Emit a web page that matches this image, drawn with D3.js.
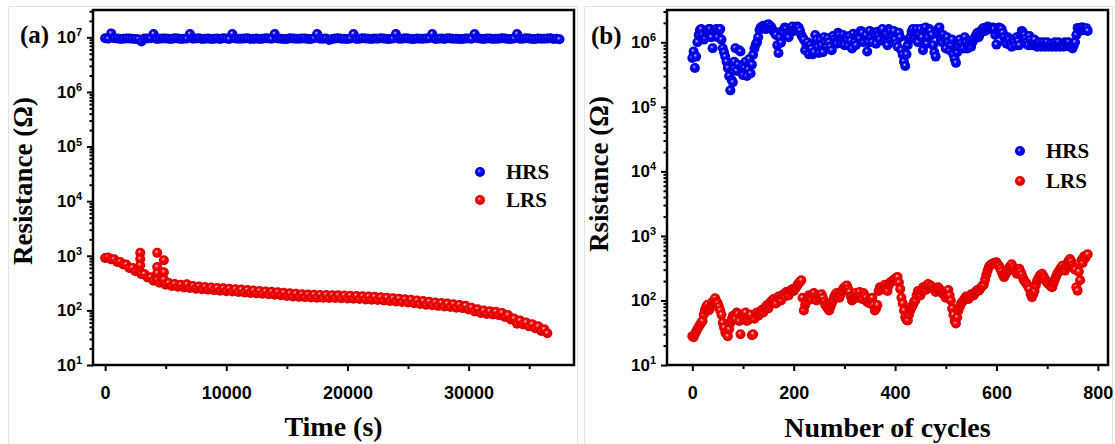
<!DOCTYPE html>
<html>
<head>
<meta charset="utf-8">
<script src="https://cdn.jsdelivr.net/npm/d3@7"></script>
<style>
    body { margin: 0; background: #fff; }
    svg { display: block; font-family: "Liberation Serif", "Times New Roman", serif; font-weight: bold; }
</style>
</head>
<body>
<svg id="chart" width="1115" height="444"></svg>
<script>
// ---------- data: panel (a), retention vs time ----------
const timeHrsA = d3.range(0, 37501, 500);   // s
const hrsA = [
    9.6e6, 1.18e7, 9.5e6, 9.4e6, 9.5e6, 9.3e6, 8.4e6, 9.5e6, 1.15e7, 9.4e6,
    9.5e6, 9.3e6, 9.5e6, 9.4e6, 1.15e7, 9.5e6, 9.3e6, 9.5e6, 9.4e6, 9.3e6,
    9.5e6, 1.15e7, 9.4e6, 9.5e6, 9.3e6, 9.5e6, 9.4e6, 9.5e6, 1.15e7, 9.4e6,
    9.3e6, 9.5e6, 9.4e6, 9.5e6, 9.3e6, 1.15e7, 9.4e6, 8.9e6, 9.5e6, 9.4e6,
    9.3e6, 1.15e7, 9.4e6, 9.5e6, 9.3e6, 9.4e6, 9.5e6, 9.3e6, 1.15e7, 9.4e6,
    9.5e6, 9.3e6, 9.4e6, 9.5e6, 1.15e7, 9.4e6, 9.3e6, 9.5e6, 9.4e6, 9.3e6,
    9.5e6, 1.15e7, 9.4e6, 9.5e6, 9.3e6, 9.4e6, 9.5e6, 9.3e6, 1.15e7, 9.4e6,
    9.5e6, 9.3e6, 9.4e6, 9.5e6, 9.3e6, 9.2e6
];
// readings between the ones above
const timeHrsA2 = d3.range(250, 37251, 500);
const hrsA2 = [
    9.4e6, 9.6e6, 9.3e6, 9.5e6, 9.4e6, 9.2e6, 9.5e6, 9.6e6, 9.3e6, 9.5e6,
    9.4e6, 9.6e6, 9.3e6, 9.5e6, 9.4e6, 9.6e6, 9.4e6, 9.3e6, 9.5e6, 9.6e6,
    9.3e6, 9.5e6, 9.4e6, 9.6e6, 9.4e6, 9.3e6, 9.6e6, 9.4e6, 9.5e6, 9.3e6,
    9.6e6, 9.4e6, 9.5e6, 9.3e6, 9.6e6, 9.4e6, 9.5e6, 9.3e6, 9.6e6, 9.4e6,
    9.5e6, 9.3e6, 9.6e6, 9.4e6, 9.5e6, 9.6e6, 9.3e6, 9.5e6, 9.4e6, 9.6e6,
    9.3e6, 9.5e6, 9.4e6, 9.6e6, 9.3e6, 9.5e6, 9.6e6, 9.4e6, 9.3e6, 9.5e6,
    9.4e6, 9.6e6, 9.3e6, 9.5e6, 9.4e6, 9.6e6, 9.3e6, 9.5e6, 9.4e6, 9.6e6,
    9.3e6, 9.5e6, 9.4e6, 9.6e6, 9.4e6
];
const timeLrsA = d3.range(0, 36501, 500);
const lrsA = [
    910, 860, 770, 690, 600, 520, 460, 400, 350, 320,
    295, 280, 270, 262, 256, 250, 245, 240, 235, 230,
    225, 221, 217, 213, 209, 205, 201, 198, 194, 190,
    184, 180, 177, 175, 173, 171, 170, 169, 168, 167,
    165, 163, 161, 159, 157, 155, 152, 149, 146, 142,
    139, 135, 131, 127, 124, 121, 118, 115, 112, 110,
    104, 96, 90, 86, 84, 82, 76, 68, 57, 55,
    51, 47, 42, 38
];
// upper edge of the LRS band
const timeLrsA2 = d3.range(250, 36251, 500);
const lrsA2 = [
    930, 860, 770, 690, 600, 525, 462, 405, 362, 332,
    318, 304, 294, 286, 280, 274, 269, 263, 258, 253,
    248, 244, 240, 235, 231, 227, 222, 219, 215, 210,
    205, 201, 198, 195, 193, 192, 191, 190, 189, 188,
    186, 184, 181, 179, 177, 174, 171, 167, 164, 160,
    157, 152, 148, 144, 139, 136, 133, 130, 126, 122,
    112, 105, 99, 96, 94, 90, 82, 71, 65, 60,
    56, 51, 45
];
// scattered LRS readings above the main curve
const spikeTimeA = [2900, 2900, 2900, 2900, 4300, 4300, 4300, 4300, 4850, 4850, 4850, 6750];
const spikeLrsA = [1130, 870, 670, 500, 1130, 620, 480, 355, 830, 500, 370, 300];

// ---------- data: panel (b), endurance vs cycles ----------
const cyclesB = d3.range(0, 781, 5);
const hrsB = [
    5.7e5, 4.0e5, 1.0e6, 1.55e6, 1.3e6, 1.15e6, 1.5e6, 1.6e6, 8.1e5, 1.55e6,
    1.2e6, 1.6e6, 8.1e5, 6.0e5, 4.0e5, 1.8e5, 2.4e5, 8.1e5, 4.5e5, 7.2e5,
    3.1e5, 5.0e5, 3.8e5, 3.3e5, 6.4e5, 9.2e5, 1.2e6, 1.7e6, 1.8e6, 1.6e6,
    1.9e6, 1.75e6, 1.5e6, 1.3e6, 6.8e5, 9.8e5, 1.4e6, 1.6e6, 1.2e6, 1.67e6,
    1.5e6, 1.7e6, 1.67e6, 1.3e6, 1.1e6, 9.2e5, 6.5e5, 8.0e5, 7.0e5, 1.1e6,
    6.8e5, 9.0e5, 1.2e6, 8.5e5, 1.0e6, 7.5e5, 1.1e6, 9.5e5, 1.3e6, 1.17e6,
    9.0e5, 1.1e6, 1.25e6, 8.0e5, 1.0e6, 1.3e6, 1.15e6, 1.4e6, 1.2e6, 7.2e5,
    1.5e6, 1.0e6, 1.3e6, 1.45e6, 1.1e6, 1.6e6, 1.2e6, 9.0e5, 1.5e6, 1.3e6,
    1.1e6, 8.5e5, 1.2e6, 6.4e5, 4.3e5, 9.0e5, 1.2e6, 1.6e6, 1.4e6, 1.0e6,
    1.6e6, 7.5e5, 1.7e6, 1.2e6, 1.5e6, 9.0e5, 6.0e5, 1.6e6, 1.1e6, 1.3e6,
    8.0e5, 1.0e6, 9.0e5, 6.5e5, 4.8e5, 8.5e5, 9.5e5, 8.0e5, 1.0e6, 9.0e5,
    8.5e5, 1.1e6, 1.3e6, 1.2e6, 1.5e6, 1.67e6, 1.6e6, 1.7e6, 1.65e6, 1.6e6,
    9.2e5, 1.7e6, 1.6e6, 1.2e6, 9.5e5, 1.1e6, 8.5e5, 1.0e6, 1.2e6, 9.0e5,
    1.5e6, 1.3e6, 1.0e6, 1.25e6, 9.0e5, 1.1e6, 8.5e5, 1.0e6, 9.5e5, 8.5e5,
    1.0e6, 9.0e5, 8.5e5, 1.0e6, 9.5e5, 8.5e5, 9.5e5, 1.0e6, 9.0e5, 8.5e5,
    8.0e5, 1.0e6, 1.67e6, 1.5e6, 1.7e6, 1.6e6, 1.5e6
];
const lrsB = [
    28, 30, 36, 42, 48, 72, 86, 75, 95, 108,
    90, 70, 45, 32, 28, 45, 58, 52, 62, 30,
    55, 65, 50, 60, 30, 62, 58, 68, 65, 80,
    75, 95, 105, 90, 115, 100, 125, 135, 120, 145,
    140, 160, 185, 205, 70, 95, 120, 105, 130, 100,
    112, 125, 95, 80, 70, 90, 115, 130, 110, 140,
    160, 170, 135, 100, 120, 110, 135, 105, 120, 95,
    90, 110, 70, 85, 160, 150, 175, 140, 190, 200,
    215, 230, 150, 90, 55, 49, 70, 85, 100, 140,
    120, 160, 145, 180, 170, 150, 135, 160, 140, 127,
    110, 145, 100, 60, 44, 70, 89, 100, 115, 105,
    125, 120, 140, 142, 160, 175, 250, 330, 365, 380,
    390, 340, 280, 230, 270, 320, 365, 300, 260, 310,
    250, 200, 180, 150, 112, 140, 200, 240, 260, 220,
    190, 175, 160, 210, 260, 300, 345, 290, 380, 440,
    350, 300, 142, 205, 380, 450, 520
];
// readings between the ones above (half-way cycles)
const cyclesB2 = d3.range(2.5, 780, 5);
const hrsB2 = [
    7.2e5, 6.0e5, 1.3e6, 1.6e6, 1.1e6, 1.4e6, 1.6e6, 1.2e6, 1.5e6, 1.6e6,
    1.5e6, 1.1e6, 7.0e5, 5.0e5, 3.0e5, 2.6e5, 5.0e5, 3.6e5, 7.5e5, 4.2e5,
    4.0e5, 3.0e5, 5.5e5, 4.5e5, 8.0e5, 1.0e6, 1.55e6, 1.75e6, 1.7e6, 1.85e6,
    1.7e6, 1.6e6, 1.4e6, 9.0e5, 1.2e6, 1.5e6, 1.7e6, 1.4e6, 1.5e6, 1.75e6,
    1.6e6, 1.75e6, 1.5e6, 1.2e6, 7.5e5, 1.0e6, 9.0e5, 6.5e5, 1.3e6, 8.5e5,
    1.1e6, 7.0e5, 1.0e6, 1.15e6, 8.5e5, 1.25e6, 1.0e6, 1.4e6, 1.0e6, 1.3e6,
    1.2e6, 9.0e5, 1.05e6, 1.35e6, 9.0e5, 1.2e6, 1.5e6, 1.0e6, 1.3e6, 1.0e6,
    1.2e6, 1.4e6, 9.5e5, 1.3e6, 1.5e6, 1.05e6, 1.35e6, 1.6e6, 1.1e6, 1.5e6,
    9.5e5, 1.4e6, 7.5e5, 5.0e5, 6.5e5, 1.1e6, 1.45e6, 1.2e6, 1.6e6, 1.3e6,
    1.2e6, 1.5e6, 9.5e5, 1.6e6, 1.3e6, 7.0e5, 1.4e6, 1.7e6, 1.0e6, 1.15e6,
    1.2e6, 7.5e5, 1.1e6, 5.5e5, 7.0e5, 1.1e6, 8.5e5, 1.2e6, 8.0e5, 1.05e6,
    1.0e6, 1.2e6, 1.4e6, 1.35e6, 1.6e6, 1.5e6, 1.75e6, 1.6e6, 1.7e6, 1.3e6,
    1.5e6, 1.65e6, 1.4e6, 1.0e6, 1.2e6, 9.5e5, 1.1e6, 9.0e5, 1.05e6, 1.3e6,
    1.4e6, 1.15e6, 9.0e5, 1.1e6, 1.0e6, 9.0e5, 9.5e5, 8.5e5, 1.0e6, 9.5e5,
    8.5e5, 9.5e5, 9.0e5, 8.5e5, 1.0e6, 9.0e5, 8.5e5, 9.5e5, 1.0e6, 9.0e5,
    9.0e5, 1.3e6, 1.6e6, 1.7e6, 1.55e6, 1.65e6
];
const lrsB2 = [
    27, 33, 39, 45, 60, 80, 70, 85, 100, 95,
    80, 60, 38, 30, 36, 50, 55, 65, 48, 60,
    60, 48, 58, 29, 52, 65, 62, 72, 75, 85,
    85, 100, 95, 110, 105, 120, 115, 130, 140, 150,
    150, 175, 195, 110, 85, 110, 115, 125, 110, 120,
    105, 110, 85, 75, 80, 100, 125, 120, 125, 150,
    165, 150, 115, 110, 130, 120, 115, 130, 110, 100,
    100, 85, 75, 140, 155, 165, 160, 170, 195, 210,
    225, 190, 110, 70, 50, 60, 78, 95, 120, 130,
    140, 150, 170, 160, 165, 145, 150, 150, 130, 120,
    125, 120, 75, 48, 55, 80, 95, 108, 110, 115,
    120, 130, 145, 150, 170, 210, 290, 350, 370, 385,
    360, 310, 250, 250, 300, 340, 330, 280, 290, 280,
    220, 190, 165, 125, 125, 170, 220, 250, 240, 200,
    180, 165, 185, 235, 280, 320, 310, 340, 410, 400,
    320, 160, 280, 420, 480, 500
];

const seriesNames = ["HRS", "LRS"];
const ticksXA = [0, 10000, 20000, 30000];
const minorXA = [5000, 15000, 25000, 35000];
const ticksXB = [0, 200, 400, 600, 800];
const minorXB = [100, 300, 500, 700];

// ---------- drawing ----------
const svg = d3.select("#chart");

// shaded-sphere look for the markers (small highlight, upper left)
const defs = svg.append("defs");
function sphere(id, light, main, dark) {
    const g = defs.append("radialGradient").attr("id", id)
        .attr("cx", "50%").attr("cy", "50%").attr("r", "50%")
        .attr("fx", "40%").attr("fy", "36%");
    g.append("stop").attr("offset", "0%").attr("stop-color", "#ffffff");
    g.append("stop").attr("offset", "12%").attr("stop-color", light);
    g.append("stop").attr("offset", "40%").attr("stop-color", main);
    g.append("stop").attr("offset", "100%").attr("stop-color", dark);
}
sphere("ballBlue", "#8080ff", "#0000ff", "#0000cc");
sphere("ballRed", "#ff9090", "#ff0000", "#d00000");
const fills = { HRS: "url(#ballBlue)", LRS: "url(#ballRed)" };

// faint borders of the two pasted pictures
svg.append("rect").attr("x", 8.5).attr("y", 6.5).attr("width", 569).attr("height", 445)
    .attr("fill", "none").attr("stroke", "#e4e4e4");
svg.append("rect").attr("x", 584.5).attr("y", 6.5).attr("width", 528).attr("height", 445)
    .attr("fill", "none").attr("stroke", "#e4e4e4");

function minorDecades(lo, hi) {
    const out = [];
    for (let e = lo; e < hi; e++) for (let m = 2; m <= 9; m++) out.push(m * Math.pow(10, e));
    return out;
}

// join the reading lists of one series and order them along x,
// so every marker is drawn over the one before it
function mergeParts(parts) {
    const pts = [];
    parts.forEach(([xs, ys]) => xs.forEach((v, i) => pts.push([v, ys[i]])));
    return pts.sort((a, b) => a[0] - b[0]);
}

function drawPanel(p) {
    const x = d3.scaleLinear().domain(p.xDomain).range([p.left, p.right]);
    const y = d3.scaleLog().domain(p.yDomain).range([p.bottom, p.top]);
    const g = svg.append("g");

    // y axis, decades with superscripts
    const decades = d3.range(1, p.maxExp + 1).map(e => Math.pow(10, e));
    const yAx = g.append("g").attr("transform", `translate(${p.left},0)`)
        .call(d3.axisLeft(y).tickValues(decades).tickSize(6).tickPadding(5));
    yAx.selectAll(".tick text").each(function (d) {
        const t = d3.select(this);
        t.text(null).attr("font-size", "17px").attr("fill", "#000");
        t.append("tspan").text("10");
        t.append("tspan").attr("dy", "-0.62em").attr("font-size", "11px")
            .text(Math.round(Math.log10(d)));
    });
    g.append("g").attr("transform", `translate(${p.left},0)`)
        .call(d3.axisLeft(y).tickValues(minorDecades(1, p.maxExp + 1).filter(v => v < p.yDomain[1]))
            .tickSize(3.5).tickFormat(""));

    // x axis
    const xAx = g.append("g").attr("transform", `translate(0,${p.bottom})`)
        .call(d3.axisBottom(x).tickValues(p.xTicks).tickSize(6).tickPadding(15).tickFormat(d3.format("d")));
    xAx.selectAll(".tick text").attr("font-size", "18px").attr("fill", "#000");
    g.append("g").attr("transform", `translate(0,${p.bottom})`)
        .call(d3.axisBottom(x).tickValues(p.xMinor).tickSize(4).tickFormat(""));

    g.selectAll(".domain").remove();
    g.selectAll(".tick line").attr("stroke", "#000").attr("stroke-width", 2);

    // points
    p.series.forEach(s => {
        g.append("g").selectAll("circle")
            .data(mergeParts(s.parts))
            .join("circle")
            .attr("cx", d => x(d[0]))
            .attr("cy", d => y(d[1]))
            .attr("r", 5)
            .attr("fill", fills[s.name]);
    });

    // frame
    g.append("rect")
        .attr("x", p.left).attr("y", p.top)
        .attr("width", p.right - p.left).attr("height", p.bottom - p.top)
        .attr("fill", "none").attr("stroke", "#000").attr("stroke-width", 2.5);

    // legend
    seriesNames.forEach((name, i) => {
        const ly = p.legendY + i * p.legendGap;
        g.append("circle").attr("cx", p.legendX).attr("cy", ly).attr("r", 5)
            .attr("fill", fills[name]);
        g.append("text").attr("x", p.legendX + 26).attr("y", ly + 7)
            .attr("font-size", "21px").text(name);
    });

    // titles
    g.append("text").attr("x", p.tagX).attr("y", p.tagY).attr("font-size", "25px").text(p.tag);
    g.append("text")
        .attr("transform", `translate(${p.yTitleX},${p.yTitleY}) rotate(-90)`)
        .attr("text-anchor", "middle").attr("font-size", "27px").text(p.yTitle);
    g.append("text")
        .attr("x", (p.left + p.right) / 2).attr("y", p.xTitleY)
        .attr("text-anchor", "middle").attr("font-size", "28px").text(p.xTitle);
}

drawPanel({
    left: 93, right: 574, top: 10, bottom: 365,
    xDomain: [-1000, 38700], yDomain: [10, Math.pow(10, 7.5)], maxExp: 7,
    xTicks: ticksXA, xMinor: minorXA,
    series: [
        { name: "HRS", parts: [[timeHrsA, hrsA], [timeHrsA2, hrsA2]] },
        { name: "LRS", parts: [[timeLrsA, lrsA], [timeLrsA2, lrsA2], [spikeTimeA, spikeLrsA]] }
    ],
    legendX: 480, legendY: 172, legendGap: 28,
    tag: "(a)", tagX: 20, tagY: 43,
    yTitle: "Resistance (\u03A9)", yTitleX: 32, yTitleY: 181,
    xTitle: "Time (s)", xTitleY: 436
});

drawPanel({
    left: 667, right: 1108, top: 10, bottom: 365,
    xDomain: [-50, 820], yDomain: [10, Math.pow(10, 6.5)], maxExp: 6,
    xTicks: ticksXB, xMinor: minorXB,
    series: [
        { name: "HRS", parts: [[cyclesB, hrsB], [cyclesB2, hrsB2]] },
        { name: "LRS", parts: [[cyclesB, lrsB], [cyclesB2, lrsB2]] }
    ],
    legendX: 1020, legendY: 151, legendGap: 30,
    tag: "(b)", tagX: 591, tagY: 44,
    yTitle: "Rsistance (\u03A9)", yTitleX: 608, yTitleY: 174,
    xTitle: "Number of cycles", xTitleY: 437
});
</script>
</body>
</html>
